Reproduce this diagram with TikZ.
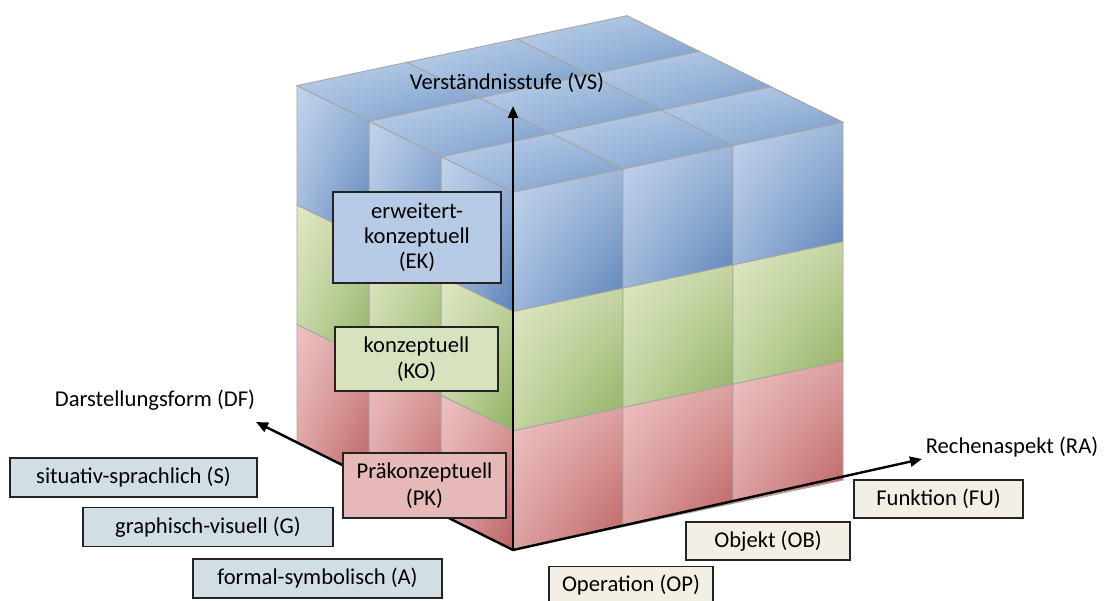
\documentclass[tikz,border=0pt]{standalone}
\usepackage{fontspec}
\setmainfont{Carlito}
\usetikzlibrary{arrows.meta,shadings}
\definecolor{redL}{RGB}{238,194,194}
\definecolor{redD}{RGB}{188,98,98}
\definecolor{greenL}{RGB}{222,232,196}
\definecolor{greenD}{RGB}{146,176,98}
\definecolor{blueL}{RGB}{194,212,236}
\definecolor{blueD}{RGB}{92,130,184}
\definecolor{topL}{RGB}{188,208,234}
\definecolor{topD}{RGB}{116,152,199}
\definecolor{gridgray}{RGB}{165,165,165}
\definecolor{ekFill}{RGB}{183,203,230}
\definecolor{koFill}{RGB}{214,227,190}
\definecolor{pkFill}{RGB}{230,185,185}
\definecolor{dfFill}{RGB}{209,222,228}
\definecolor{raFill}{RGB}{243,239,229}
\definecolor{boxline}{RGB}{35,35,35}
\tikzset{
  tile/.style n args={2}{draw=gridgray, line width=0.9pt,
    upper left=#1, upper right=#1!65!#2, lower left=#1!65!#2, lower right=#2},
  axisline/.style={line width=2.4pt, -{Triangle[length=12pt,width=10pt]}},
  lbox/.style={draw=boxline, line width=1.4pt, align=center, inner sep=0pt},
  dfbox/.style={lbox, fill=dfFill, minimum height=39pt},
  rabox/.style={lbox, fill=raFill, minimum height=38pt, minimum width=164pt},
  axlabel/.style={inner sep=0pt}
}
\begin{document}
\begin{tikzpicture}[x=1pt,y=-1pt,font=\fontsize{22.6}{26.5}\selectfont]
\useasboundingbox (0,0) rectangle (1105,601);
\clip (0,0) rectangle (1105,601);
% cube
\begin{scope}[shift={(513,550)}, x={(110pt,23.3pt)}, y={(-72pt,35.5pt)}, z={(0pt,119.3pt)}]
  \foreach \c/\lc/\dc in {0/redL/redD,1/greenL/greenD,2/blueL/blueD}{
    \foreach \a in {0,1,2}{
      \shadedraw[tile={\lc}{\dc}] (\a,0,\c) -- ++(1,0,0) -- ++(0,0,1) -- ++(-1,0,0) -- cycle;
      \shadedraw[tile={\lc}{\dc}] (0,\a,\c) -- ++(0,1,0) -- ++(0,0,1) -- ++(0,-1,0) -- cycle;
    }
  }
  \foreach \a in {0,1,2}{
    \foreach \b in {0,1,2}{
      \shadedraw[tile={topL}{topD}] (\a,\b,3) -- ++(1,0,0) -- ++(0,1,0) -- ++(-1,0,0) -- cycle;
    }
  }
\end{scope}
% axes
\coordinate (O) at (513,550);
\coordinate (vsTip) at (513,106);
\coordinate (dfTip) at (256,422);
\coordinate (raTip) at (922,459);
\draw[axisline] (O) -- (vsTip);
\draw[axisline] (O) -- (dfTip);
\draw[axisline] (O) -- (raTip);
\node[axlabel] (vs) at (507,83) {Verständnisstufe (VS)};
\node[axlabel] (df) at (155,400) {Darstellungsform (DF)};
\node[axlabel] (ra) at (1012,447) {Rechenaspekt (RA)};
% level boxes
\node[lbox, fill=ekFill, minimum width=168pt, minimum height=91pt, font=\fontsize{22.6}{25}\selectfont] (ek) at (417,237.5) {erweitert-\\konzeptuell\\(EK)};
\node[lbox, fill=koFill, minimum width=163pt, minimum height=64pt] (ko) at (416.5,359) {konzeptuell\\(KO)};
\node[lbox, fill=pkFill, minimum width=163pt, minimum height=65pt] (pk) at (424.5,485.5) {Präkonzeptuell\\(PK)};
% representation boxes
\node[dfbox, minimum width=247pt] (s) at (133.5,477.5) {situativ-sprachlich (S)};
\node[dfbox, minimum width=250pt] (g) at (208,527) {graphisch-visuell (G)};
\node[dfbox, minimum width=249pt] (a) at (317.5,578.5) {formal-symbolisch (A)};
% aspect boxes
\node[rabox] (op) at (631,585.5) {Operation (OP)};
\node[rabox] (ob) at (768,541) {Objekt (OB)};
\node[rabox, minimum width=169pt] (fu) at (938.5,499) {Funktion (FU)};
\end{tikzpicture}
\end{document}
